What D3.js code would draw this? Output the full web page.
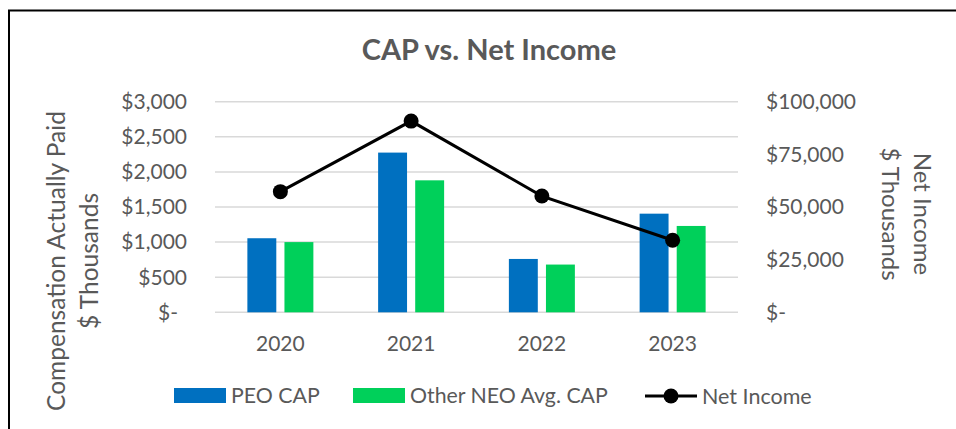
<!DOCTYPE html>
<html>
<head>
<meta charset="utf-8">
<script src="https://cdn.jsdelivr.net/npm/d3@7"></script>
<style>
  body { margin: 0; background: #fff; }
  svg text { font-family: Lato, "Open Sans", sans-serif; fill: #595959; }
</style>
</head>
<body>
<div id="chart"></div>
<script>
const years = ["2020", "2021", "2022", "2023"];
const seriesNames = ["PEO CAP", "Other NEO Avg. CAP"];
const peoCap = [1055, 2275, 760, 1405];
const neoCap = [1000, 1880, 680, 1230];
const netIncome = [57300, 90800, 55200, 34200];
const leftTicks = [0, 500, 1000, 1500, 2000, 2500, 3000];
const rightTicks = [0, 25000, 50000, 75000, 100000];

const width = 956, height = 429;
const plot = {left: 215, right: 738, top: 101.7, bottom: 312.3};
const colors = {"PEO CAP": "#0070C0", "Other NEO Avg. CAP": "#00D05A"};

const svg = d3.select("#chart").append("svg")
    .attr("width", width)
    .attr("height", height);

// chart frame (cropped on right and bottom)
svg.append("path")
    .attr("d", "M9,430V10.5H960")
    .attr("fill", "none")
    .attr("stroke", "#000")
    .attr("stroke-width", 2);

const x0 = d3.scaleBand().domain(years).range([plot.left, plot.right]);
const x1 = d3.scaleBand().domain(seriesNames).range([-33, 33]).paddingInner(0.22);
const yLeft = d3.scaleLinear().domain([0, 3000]).range([plot.bottom, plot.top]);
const yRight = d3.scaleLinear().domain([0, 100000]).range([plot.bottom, plot.top]);

const fmt = d3.format(",");

// gridlines
svg.append("g").selectAll("line")
    .data(leftTicks)
    .enter().append("line")
    .attr("x1", plot.left).attr("x2", plot.right)
    .attr("y1", d => yLeft(d)).attr("y2", d => yLeft(d))
    .attr("stroke", "#D9D9D9")
    .attr("stroke-width", 1.5);

// left tick labels
svg.append("g").selectAll("text")
    .data(leftTicks)
    .enter().append("text")
    .attr("x", d => d === 0 ? 178 : 187)
    .attr("y", d => yLeft(d))
    .attr("dy", "0.35em")
    .attr("text-anchor", "end")
    .style("font-size", "21px")
    .text(d => d === 0 ? "$-" : "$" + fmt(d));

// right tick labels
svg.append("g").selectAll("text")
    .data(rightTicks)
    .enter().append("text")
    .attr("x", 766)
    .attr("y", d => yRight(d))
    .attr("dy", "0.35em")
    .attr("text-anchor", "start")
    .style("font-size", "21px")
    .text(d => d === 0 ? "$-" : "$" + fmt(d));

// x labels
svg.append("g").selectAll("text")
    .data(years)
    .enter().append("text")
    .attr("x", d => x0(d) + x0.bandwidth() / 2)
    .attr("y", 344)
    .attr("dy", "0.35em")
    .attr("text-anchor", "middle")
    .style("font-size", "21px")
    .text(d => d);

// bars
const barData = years.map((yr, i) => ({
    year: yr,
    values: [
        {name: "PEO CAP", value: peoCap[i]},
        {name: "Other NEO Avg. CAP", value: neoCap[i]}
    ]
}));

const groups = svg.append("g").selectAll("g")
    .data(barData)
    .enter().append("g")
    .attr("transform", d => "translate(" + (x0(d.year) + x0.bandwidth() / 2) + ",0)");

groups.selectAll("rect")
    .data(d => d.values)
    .enter().append("rect")
    .attr("x", d => x1(d.name))
    .attr("width", x1.bandwidth())
    .attr("y", d => yLeft(d.value))
    .attr("height", d => yLeft(0) - yLeft(d.value))
    .attr("fill", d => colors[d.name]);

// net income line
const line = d3.line()
    .x((d, i) => x0(years[i]) + x0.bandwidth() / 2)
    .y(d => yRight(d));

svg.append("path")
    .datum(netIncome)
    .attr("d", line)
    .attr("fill", "none")
    .attr("stroke", "#000")
    .attr("stroke-width", 3);

svg.append("g").selectAll("circle")
    .data(netIncome)
    .enter().append("circle")
    .attr("cx", (d, i) => x0(years[i]) + x0.bandwidth() / 2)
    .attr("cy", d => yRight(d))
    .attr("r", 7.5)
    .attr("fill", "#000");

// title
svg.append("text")
    .attr("x", 489)
    .attr("y", 50)
    .attr("dy", "0.35em")
    .attr("text-anchor", "middle")
    .style("font-size", "29px")
    .style("font-weight", "bold")
    .text("CAP vs. Net Income");

// left axis title
const lt = svg.append("text")
    .attr("transform", "translate(56,261) rotate(-90)")
    .attr("text-anchor", "middle")
    .style("font-size", "24.5px");
lt.append("tspan").attr("x", 0).attr("dy", "0.35em").text("Compensation Actually Paid");
lt.append("tspan").attr("x", 0).attr("dy", "1.38em").text("$ Thousands");

// right axis title
const rt = svg.append("text")
    .attr("transform", "translate(922,214) rotate(90)")
    .attr("text-anchor", "middle")
    .style("font-size", "24px");
rt.append("tspan").attr("x", 0).attr("dy", "0.35em").text("Net Income");
rt.append("tspan").attr("x", 0).attr("dy", "1.3em").text("$ Thousands");

// legend
const legend = svg.append("g");
const legendItems = [
    {name: "PEO CAP", x: 174},
    {name: "Other NEO Avg. CAP", x: 353}
];
legendItems.forEach(item => {
    legend.append("rect")
        .attr("x", item.x).attr("y", 388)
        .attr("width", 52).attr("height", 15)
        .attr("fill", colors[item.name]);
    legend.append("text")
        .attr("x", item.x + 57).attr("y", 396)
        .attr("dy", "0.35em")
        .style("font-size", "21.3px")
        .text(item.name);
});
legend.append("line")
    .attr("x1", 645).attr("x2", 697)
    .attr("y1", 396).attr("y2", 396)
    .attr("stroke", "#000").attr("stroke-width", 3);
legend.append("circle")
    .attr("cx", 671).attr("cy", 396).attr("r", 7.5).attr("fill", "#000");
legend.append("text")
    .attr("x", 702).attr("y", 396)
    .attr("dy", "0.35em")
    .style("font-size", "21.5px")
    .text("Net Income");
</script>
</body>
</html>
